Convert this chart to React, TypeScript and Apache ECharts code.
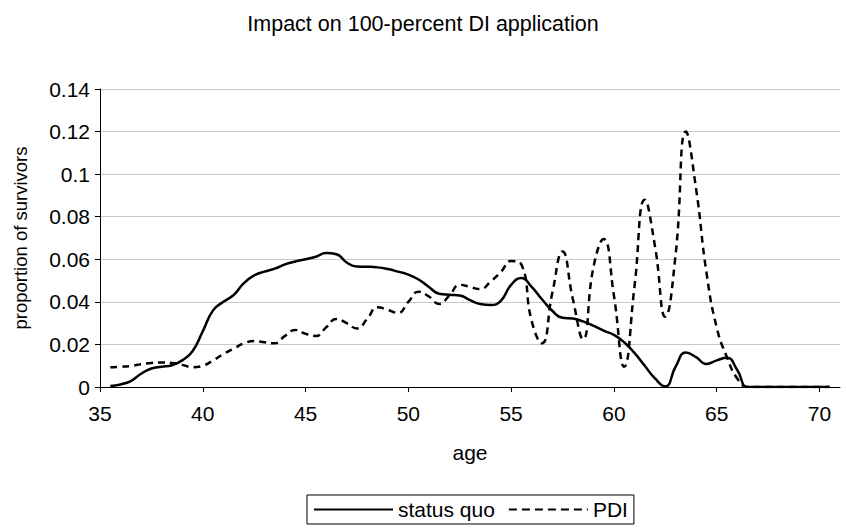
import React, { useEffect, useRef } from 'react';
import * as echarts from 'echarts';

// Age grid (half-year steps)
const ages = [
  35.5, 36, 36.5, 37, 37.5, 38, 38.5, 39, 39.5, 40,
  40.5, 41, 41.5, 42, 42.5, 43, 43.5, 44, 44.5, 45,
  45.5, 46, 46.5, 47, 47.5, 48, 48.5, 49, 49.5, 50,
  50.5, 51, 51.5, 52, 52.5, 53, 53.5, 54, 54.5, 55,
  55.5, 56, 56.5, 57, 57.5, 58, 58.5, 59, 59.5, 60,
  60.5, 61, 61.5, 62, 62.5, 63, 63.5, 64, 64.5, 65,
  65.5, 66, 66.5, 67, 67.5, 68, 68.5, 69, 69.5, 70,
  70.5,
];

// Proportion of survivors, status quo
const statusQuo = [
  0.0005, 0.0012, 0.0028, 0.0062, 0.0087, 0.0095, 0.0102, 0.0125, 0.0168, 0.0262,
  0.036, 0.04, 0.0432, 0.0488, 0.0524, 0.0542, 0.0556, 0.0576, 0.059, 0.06,
  0.0612, 0.0629, 0.0624, 0.0585, 0.0566, 0.0565, 0.0562, 0.0554, 0.0542, 0.0528,
  0.0505, 0.047, 0.0438, 0.0433, 0.043, 0.0408, 0.039, 0.0385, 0.0405, 0.048,
  0.0512, 0.047, 0.0412, 0.0358, 0.0325, 0.0322, 0.0308, 0.0288, 0.0265, 0.0245,
  0.021, 0.016, 0.01, 0.004, 0.0002, 0.0095, 0.0162, 0.014, 0.0108, 0.0125,
  0.0138, 0.008, 0, 0, 0, 0, 0, 0, 0, 0,
  0,
];

// Proportion of survivors, PDI
const pdi = [
  0.0093, 0.0095, 0.0099, 0.0107, 0.0113, 0.0115, 0.0113, 0.0104, 0.0093, 0.01,
  0.0125, 0.0155, 0.018, 0.0205, 0.0216, 0.021, 0.0205, 0.024, 0.0268, 0.025,
  0.024, 0.028, 0.032, 0.03, 0.0275, 0.032, 0.0375, 0.0362, 0.0348, 0.04,
  0.0448, 0.0425, 0.039, 0.043, 0.048, 0.047, 0.046, 0.0495, 0.054, 0.0592,
  0.0575, 0.031, 0.0205, 0.044, 0.0637, 0.0415, 0.0225, 0.056, 0.0695, 0.043,
  0.0095, 0.047, 0.088, 0.066, 0.033, 0.062, 0.12, 0.093, 0.054, 0.028,
  0.014, 0.004, 0, 0, 0, 0, 0, 0, 0, 0,
  0,
];

const xTicks = [35, 40, 45, 50, 55, 60, 65, 70];
const seriesNames = ['status quo', 'PDI'];

const FONT = 'Liberation Sans, Arial, sans-serif';

export default function App() {
  const ref = useRef<HTMLDivElement>(null);

  useEffect(() => {
    if (!ref.current) return;
    const chart = echarts.init(ref.current, null, { renderer: 'svg' });
    const pairs = (vals: number[]) => ages.map((a, i) => [a, vals[i]]);

    chart.setOption({
      animation: false,
      backgroundColor: '#ffffff',
      textStyle: { fontFamily: FONT, color: '#000' },
      title: {
        text: 'Impact on 100-percent DI application',
        left: 'center',
        top: 8,
        textStyle: { fontFamily: FONT, fontSize: 21.5, fontWeight: 'normal', color: '#000' },
      },
      legend: {
        data: [
          { name: seriesNames[0] },
          { name: seriesNames[1], lineStyle: { type: [8, 5] } },
        ],
        left: 307,
        top: 495,
        orient: 'horizontal',
        itemWidth: 79,
        itemHeight: 14,
        itemGap: 13,
        padding: [4, 6, 4, 6],
        borderColor: '#000',
        borderWidth: 1,
        itemStyle: { opacity: 0, borderWidth: 0, color: 'transparent' },
        textStyle: { fontFamily: FONT, fontSize: 21, color: '#000' },
      },
      grid: { left: 100, right: 6, top: 89, bottom: 142, containLabel: false },
      xAxis: {
        type: 'value',
        min: 35,
        max: 71,
        interval: 5,
        name: 'age',
        nameLocation: 'middle',
        nameGap: 55,
        nameTextStyle: { fontFamily: FONT, fontSize: 21, color: '#000' },
        axisLine: { show: true, lineStyle: { color: '#000', width: 1 } },
        axisTick: { show: true, length: 5, inside: false, customValues: xTicks, lineStyle: { color: '#000' } },
        axisLabel: { customValues: xTicks, margin: 16, fontFamily: FONT, fontSize: 21, color: '#000' },
        splitLine: { show: false },
      },
      yAxis: {
        type: 'value',
        min: 0,
        max: 0.14,
        interval: 0.02,
        name: 'proportion of survivors',
        nameLocation: 'middle',
        nameGap: 70,
        nameRotate: 90,
        nameTextStyle: { fontFamily: FONT, fontSize: 18.5, color: '#000' },
        axisLine: { show: true, lineStyle: { color: '#000', width: 1 } },
        axisTick: { show: true, length: 5, inside: false, lineStyle: { color: '#000' } },
        axisLabel: { margin: 10, fontFamily: FONT, fontSize: 21, color: '#000' },
        splitLine: { show: true, lineStyle: { color: '#c8c8c8', width: 1 } },
      },
      series: [
        {
          name: seriesNames[0],
          type: 'line',
          data: pairs(statusQuo),
          smooth: 0.5,
          symbol: 'none',
          lineStyle: { color: '#000', width: 2.5, type: 'solid' },
          itemStyle: { color: '#000' },
          z: 3,
        },
        {
          name: seriesNames[1],
          type: 'line',
          data: pairs(pdi),
          smooth: 0.5,
          symbol: 'none',
          lineStyle: { color: '#000', width: 2.5, type: [7, 5] },
          itemStyle: { color: '#000' },
          z: 2,
        },
      ],
    });

    return () => chart.dispose();
  }, []);

  return (
    <div
      ref={ref}
      style={{ position: 'fixed', left: 0, top: 0, width: 846, height: 529, background: '#fff' }}
    />
  );
}
